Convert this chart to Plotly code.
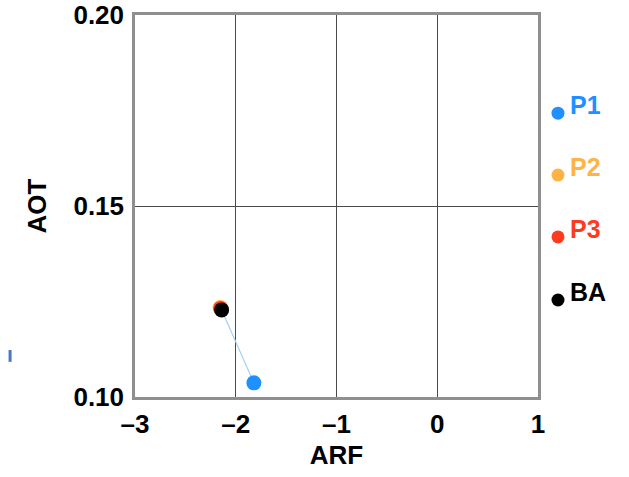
import plotly.graph_objects as go

# Data
series_names = ["P1", "P2", "P3", "BA"]
series_colors = ["#1E90FF", "#FFB347", "#FF3B1F", "#000000"]
arf = {"P1": [-1.82], "P2": [-2.155], "P3": [-2.15], "BA": [-2.14]}
aot = {"P1": [0.1037], "P2": [0.1234], "P3": [0.1232], "BA": [0.1228]}
path_x = [-1.82, -2.14]
path_y = [0.1037, 0.1228]
x_ticks = [-3, -2, -1, 0, 1]
y_ticks = [0.10, 0.15, 0.20]

FONT = "Liberation Sans, Arial, sans-serif"

fig = go.Figure()
fig.add_trace(go.Scatter(x=path_x, y=path_y, mode="lines",
                         line=dict(color="#9FD0F5", width=1.2),
                         showlegend=False, hoverinfo="skip"))
for name in ["P2", "P3", "P1", "BA"]:
    col = series_colors[series_names.index(name)]
    fig.add_trace(go.Scatter(x=arf[name], y=aot[name], mode="markers",
                             marker=dict(color=col, size=15, line=dict(width=0)),
                             name=name, showlegend=False))

# Legend drawn at the right as dots + bold labels
leg_y = [0.743, 0.581, 0.419, 0.254]
for name, col, yy in zip(series_names, series_colors, leg_y):
    fig.add_shape(type="circle", xref="paper", yref="paper",
                  xsizemode="pixel", ysizemode="pixel",
                  xanchor=1.0496, yanchor=yy, x0=-6.5, x1=6.5, y0=-6.5, y1=6.5,
                  fillcolor=col, line=dict(width=0))
    fig.add_annotation(xref="paper", yref="paper", x=1.074, y=yy + 0.022,
                       text="<b>%s</b>" % name, showarrow=False,
                       xanchor="left", yanchor="middle",
                       font=dict(family=FONT, size=25, color=col))

# small artifact mark at left
fig.add_shape(type="line", xref="paper", yref="paper",
              x0=-0.310, x1=-0.310, y0=0.092, y1=0.123,
              line=dict(color="#4a78c0", width=3))

fig.update_layout(
    width=629, height=477,
    margin=dict(l=135, r=91, t=15, b=80),
    plot_bgcolor="white", paper_bgcolor="white",
    font=dict(family=FONT, size=26, color="black"),
)
fig.update_xaxes(range=[-3, 1], tickvals=x_ticks,
                 ticktext=["<b>%s</b>" % ("\u2013%d" % abs(v) if v < 0 else str(v)) for v in x_ticks],
                 showgrid=True, gridcolor="#4a4a4a", gridwidth=1.3,
                 showline=True, linecolor="#8f8f8f", linewidth=2.5, mirror=True,
                 ticks="", ticklabelstandoff=2, zeroline=False, automargin=False,
                 ticklabeloverflow="allow",
                 title=dict(text="<b>ARF</b>", font=dict(size=26), standoff=8))
fig.update_yaxes(range=[0.10, 0.20], tickvals=y_ticks,
                 ticktext=["<b>%.2f</b>" % v for v in y_ticks],
                 showgrid=True, gridcolor="#4a4a4a", gridwidth=1.3,
                 showline=True, linecolor="#8f8f8f", linewidth=2.5, mirror=True,
                 ticks="", ticklabelstandoff=3, zeroline=False, automargin=False,
                 ticklabeloverflow="allow",
                 title=dict(text="<b>AOT</b>", font=dict(size=26), standoff=20))

# remove the browser's default 8px body margin so the figure fills the window
fig.write_html("out.html", config={"displayModeBar": False},
               post_script="document.body.style.margin='0px';")
